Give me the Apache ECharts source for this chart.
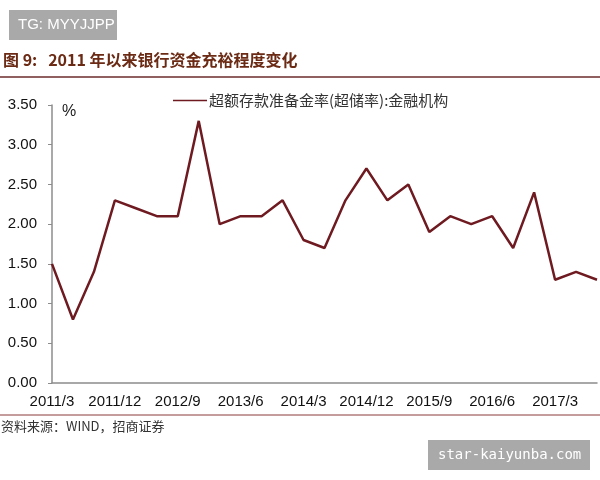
<!DOCTYPE html>
<html>
<head>
<meta charset="utf-8">
<script src="https://cdn.jsdelivr.net/npm/echarts@6/dist/echarts.min.js"></script>
<style>
  html, body { margin: 0; padding: 0; background: #fff; }
  #main { width: 600px; height: 480px; }
</style>
</head>
<body>
<div id="main"></div>
<script>
// 季度数据 2011/3 - 2017/9
var quarters = [
  '2011/3', '2011/6', '2011/9', '2011/12',
  '2012/3', '2012/6', '2012/9', '2012/12',
  '2013/3', '2013/6', '2013/9', '2013/12',
  '2014/3', '2014/6', '2014/9', '2014/12',
  '2015/3', '2015/6', '2015/9', '2015/12',
  '2016/3', '2016/6', '2016/9', '2016/12',
  '2017/3', '2017/6', '2017/9'
];
var excessReserve = [
  1.5, 0.8, 1.4, 2.3,
  2.2, 2.1, 2.1, 3.3,
  2.0, 2.1, 2.1, 2.3,
  1.8, 1.7, 2.3, 2.7,
  2.3, 2.5, 1.9, 2.1,
  2.0, 2.1, 1.7, 2.4,
  1.3, 1.4, 1.3
];
var seriesName = '超额存款准备金率(超储率):金融机构';

var myChart = echarts.init(document.getElementById('main'));
var font = 'Liberation Sans, Arial, sans-serif';
var cjk = '"Noto Sans CJK SC", sans-serif';

myChart.setOption({
  animation: false,
  legend: {
    top: 88,
    left: 168,
    itemWidth: 34,
    itemHeight: 10,
    itemGap: 2,
    icon: 'path://M0,4.2 L34,4.2 L34,5.8 L0,5.8 Z',
    textStyle: { fontSize: 15, color: '#333', fontFamily: cjk, padding: [0, 0, 0, -3] },
    data: [seriesName]
  },
  grid: {
    left: 52,
    right: 3,
    top: 105,
    bottom: 97
  },
  xAxis: {
    type: 'category',
    boundaryGap: false,
    data: quarters,
    axisLine: { lineStyle: { color: '#8c8c8c', width: 1.5 } },
    axisTick: { show: false },
    axisLabel: {
      interval: 2,
      margin: 11,
      fontSize: 15,
      color: '#111',
      fontFamily: font
    }
  },
  yAxis: {
    type: 'value',
    min: 0,
    max: 3.5,
    interval: 0.5,
    splitLine: { show: false },
    axisLine: { show: true, lineStyle: { color: '#8c8c8c', width: 1.5 } },
    axisTick: { show: true, length: 4, lineStyle: { color: '#8c8c8c' } },
    axisLabel: {
      margin: 15,
      fontSize: 15,
      color: '#111',
      fontFamily: font,
      formatter: function (v) { return v.toFixed(2); }
    }
  },
  series: [{
    name: seriesName,
    type: 'line',
    data: excessReserve,
    symbol: 'none',
    itemStyle: { color: '#6e1a20' },
    lineStyle: { color: '#6e1a20', width: 2.5 }
  }],
  graphic: [
    {
      type: 'rect',
      shape: { x: 9, y: 10, width: 108, height: 30 },
      style: { fill: '#a9a9a9' }
    },
    {
      type: 'text',
      x: 18, y: 25,
      style: {
        text: 'TG: MYYJJPP',
        fill: '#fff',
        font: '15px Liberation Sans, Arial, sans-serif',
        verticalAlign: 'middle'
      }
    },
    {
      type: 'text',
      x: 3, y: 60,
      style: {
        text: '图 9:   2011 年以来银行资金充裕程度变化',
        fill: '#6b2a14',
        font: 'bold 16px "Noto Sans CJK SC", sans-serif',
        verticalAlign: 'middle'
      }
    },
    {
      type: 'line',
      shape: { x1: 0, y1: 77, x2: 600, y2: 77 },
      style: { stroke: '#6b2b2b', lineWidth: 1.5 }
    },
    {
      type: 'text',
      x: 62, y: 112,
      style: {
        text: '%',
        fill: '#222',
        font: '16px Liberation Sans, Arial, sans-serif',
        verticalAlign: 'middle'
      }
    },
    {
      type: 'line',
      shape: { x1: 0, y1: 415, x2: 600, y2: 415 },
      style: { stroke: '#8a3a3a', lineWidth: 1 }
    },
    {
      type: 'text',
      x: 1, y: 426,
      style: {
        text: '资料来源：WIND，招商证券',
        fill: '#333',
        font: '13px "Noto Sans CJK SC", sans-serif',
        verticalAlign: 'middle'
      }
    },
    {
      type: 'rect',
      shape: { x: 428, y: 440, width: 162, height: 30 },
      style: { fill: '#a9a9a9' }
    },
    {
      type: 'text',
      x: 438, y: 455,
      style: {
        text: 'star-kaiyunba.com',
        fill: '#fff',
        font: '14px DejaVu Sans Mono, monospace',
        verticalAlign: 'middle'
      }
    }
  ]
});
</script>
</body>
</html>
